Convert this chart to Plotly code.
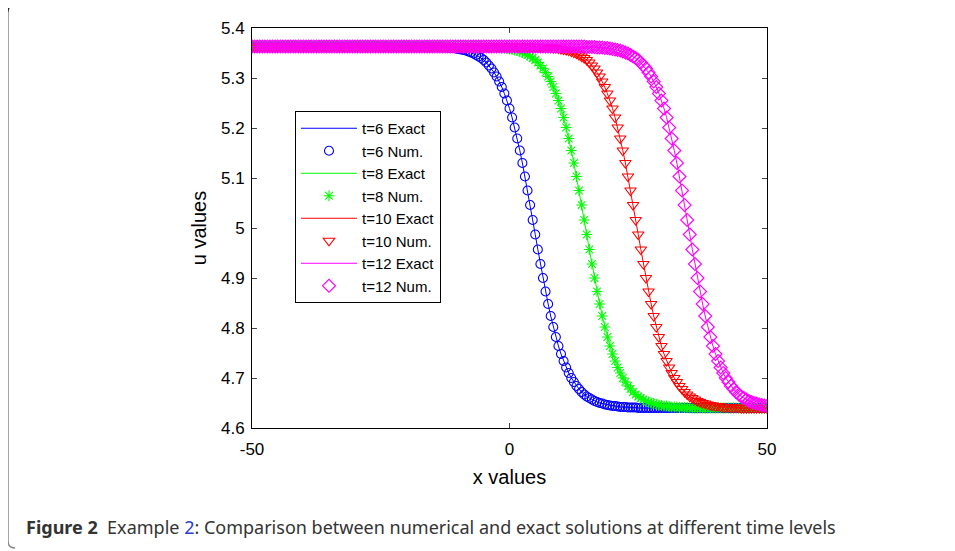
import numpy as np
import plotly.graph_objects as go

# x grid (step 0.5 from -50 to 50)
x_values = np.arange(-50, 50.0001, 0.5)

u_t6 = [
    5.363, 5.363, 5.363, 5.363, 5.363, 5.363, 5.363, 5.363, 5.363, 5.363,
    5.363, 5.363, 5.363, 5.363, 5.363, 5.363, 5.363, 5.363, 5.363, 5.363,
    5.363, 5.363, 5.363, 5.363, 5.363, 5.363, 5.363, 5.363, 5.363, 5.363,
    5.363, 5.363, 5.363, 5.363, 5.363, 5.363, 5.363, 5.363, 5.363, 5.363,
    5.363, 5.363, 5.363, 5.363, 5.363, 5.363, 5.363, 5.363, 5.363, 5.363,
    5.363, 5.363, 5.363, 5.363, 5.363, 5.363, 5.363, 5.363, 5.363, 5.363,
    5.363, 5.363, 5.363, 5.363, 5.363, 5.363, 5.363, 5.363, 5.363,
    5.363, 5.362, 5.362, 5.362, 5.362, 5.361, 5.361, 5.361, 5.360, 5.360,
    5.359, 5.358, 5.357, 5.356, 5.355, 5.353, 5.351, 5.349, 5.346, 5.343,
    5.340, 5.336, 5.331, 5.325, 5.319, 5.311, 5.303, 5.293, 5.282, 5.269,
    5.255, 5.239, 5.221, 5.201, 5.179, 5.155, 5.130, 5.103, 5.075, 5.046,
    5.016,
    4.987, 4.957, 4.928, 4.900, 4.873, 4.848, 4.824, 4.802, 4.782, 4.764,
    4.748, 4.734, 4.721, 4.710, 4.700, 4.692, 4.684, 4.678, 4.672, 4.667,
    4.663, 4.660, 4.657, 4.654, 4.652, 4.650, 4.649, 4.647, 4.646, 4.645,
    4.644, 4.644, 4.643, 4.642, 4.642, 4.642, 4.641, 4.641, 4.641, 4.641,
    4.640,
    4.640, 4.640, 4.640, 4.640, 4.640, 4.640, 4.640, 4.640, 4.640, 4.640,
    4.640, 4.640, 4.640, 4.640, 4.640, 4.640, 4.640, 4.640, 4.640, 4.640,
    4.640, 4.640, 4.640, 4.640, 4.640, 4.640, 4.640, 4.640, 4.640, 4.640,
    4.640, 4.640, 4.640, 4.640, 4.640, 4.640, 4.640, 4.640, 4.640, 4.640,
    4.640, 4.640, 4.640, 4.640, 4.640, 4.640, 4.640, 4.640, 4.640, 4.640,
]

u_t8 = [
    5.363, 5.363, 5.363, 5.363, 5.363, 5.363, 5.363, 5.363, 5.363, 5.363,
    5.363, 5.363, 5.363, 5.363, 5.363, 5.363, 5.363, 5.363, 5.363, 5.363,
    5.363, 5.363, 5.363, 5.363, 5.363, 5.363, 5.363, 5.363, 5.363, 5.363,
    5.363, 5.363, 5.363, 5.363, 5.363, 5.363, 5.363, 5.363, 5.363, 5.363,
    5.363, 5.363, 5.363, 5.363, 5.363, 5.363, 5.363, 5.363, 5.363, 5.363,
    5.363, 5.363, 5.363, 5.363, 5.363, 5.363, 5.363, 5.363, 5.363, 5.363,
    5.363, 5.363, 5.363, 5.363, 5.363, 5.363, 5.363, 5.363, 5.363, 5.363,
    5.363, 5.363, 5.363, 5.363, 5.363, 5.363, 5.363, 5.363, 5.363, 5.363,
    5.363, 5.363, 5.363, 5.363, 5.363, 5.363, 5.363, 5.363, 5.363,
    5.363, 5.362, 5.362, 5.362, 5.362, 5.361, 5.361, 5.361, 5.360, 5.360,
    5.359, 5.358, 5.357, 5.356, 5.355, 5.353, 5.351, 5.349, 5.346, 5.343,
    5.340, 5.336, 5.331, 5.325, 5.319, 5.311, 5.303, 5.293, 5.282, 5.269,
    5.255, 5.239, 5.221, 5.201, 5.179, 5.155, 5.130, 5.103, 5.075, 5.046,
    5.016,
    4.987, 4.957, 4.928, 4.900, 4.873, 4.848, 4.824, 4.802, 4.782, 4.764,
    4.748, 4.734, 4.721, 4.710, 4.700, 4.692, 4.684, 4.678, 4.672, 4.667,
    4.663, 4.660, 4.657, 4.654, 4.652, 4.650, 4.649, 4.647, 4.646, 4.645,
    4.644, 4.644, 4.643, 4.642, 4.642, 4.642, 4.641, 4.641, 4.641, 4.641,
    4.640,
    4.640, 4.640, 4.640, 4.640, 4.640, 4.640, 4.640, 4.640, 4.640, 4.640,
    4.640, 4.640, 4.640, 4.640, 4.640, 4.640, 4.640, 4.640, 4.640, 4.640,
    4.640, 4.640, 4.640, 4.640, 4.640, 4.640, 4.640, 4.640, 4.640, 4.640,
]

u_t10 = [
    5.363, 5.363, 5.363, 5.363, 5.363, 5.363, 5.363, 5.363, 5.363, 5.363,
    5.363, 5.363, 5.363, 5.363, 5.363, 5.363, 5.363, 5.363, 5.363, 5.363,
    5.363, 5.363, 5.363, 5.363, 5.363, 5.363, 5.363, 5.363, 5.363, 5.363,
    5.363, 5.363, 5.363, 5.363, 5.363, 5.363, 5.363, 5.363, 5.363, 5.363,
    5.363, 5.363, 5.363, 5.363, 5.363, 5.363, 5.363, 5.363, 5.363, 5.363,
    5.363, 5.363, 5.363, 5.363, 5.363, 5.363, 5.363, 5.363, 5.363, 5.363,
    5.363, 5.363, 5.363, 5.363, 5.363, 5.363, 5.363, 5.363, 5.363, 5.363,
    5.363, 5.363, 5.363, 5.363, 5.363, 5.363, 5.363, 5.363, 5.363, 5.363,
    5.363, 5.363, 5.363, 5.363, 5.363, 5.363, 5.363, 5.363, 5.363, 5.363,
    5.363, 5.363, 5.363, 5.363, 5.363, 5.363, 5.363, 5.363, 5.363, 5.363,
    5.363, 5.363, 5.363, 5.363, 5.363, 5.363, 5.363, 5.363, 5.363,
    5.363, 5.362, 5.362, 5.362, 5.362, 5.361, 5.361, 5.361, 5.360, 5.360,
    5.359, 5.358, 5.357, 5.356, 5.355, 5.353, 5.351, 5.349, 5.346, 5.343,
    5.340, 5.336, 5.331, 5.325, 5.319, 5.311, 5.303, 5.293, 5.282, 5.269,
    5.255, 5.239, 5.221, 5.201, 5.179, 5.155, 5.130, 5.103, 5.075, 5.046,
    5.016,
    4.987, 4.957, 4.928, 4.900, 4.873, 4.848, 4.824, 4.802, 4.782, 4.764,
    4.748, 4.734, 4.721, 4.710, 4.700, 4.692, 4.684, 4.678, 4.672, 4.667,
    4.663, 4.660, 4.657, 4.654, 4.652, 4.650, 4.649, 4.647, 4.646, 4.645,
    4.644, 4.644, 4.643, 4.642, 4.642, 4.642, 4.641, 4.641, 4.641, 4.641,
    4.640,
    4.640, 4.640, 4.640, 4.640, 4.640, 4.640, 4.640, 4.640, 4.640, 4.640,
]

u_t12 = [
    5.363, 5.363, 5.363, 5.363, 5.363, 5.363, 5.363, 5.363, 5.363, 5.363,
    5.363, 5.363, 5.363, 5.363, 5.363, 5.363, 5.363, 5.363, 5.363, 5.363,
    5.363, 5.363, 5.363, 5.363, 5.363, 5.363, 5.363, 5.363, 5.363, 5.363,
    5.363, 5.363, 5.363, 5.363, 5.363, 5.363, 5.363, 5.363, 5.363, 5.363,
    5.363, 5.363, 5.363, 5.363, 5.363, 5.363, 5.363, 5.363, 5.363, 5.363,
    5.363, 5.363, 5.363, 5.363, 5.363, 5.363, 5.363, 5.363, 5.363, 5.363,
    5.363, 5.363, 5.363, 5.363, 5.363, 5.363, 5.363, 5.363, 5.363, 5.363,
    5.363, 5.363, 5.363, 5.363, 5.363, 5.363, 5.363, 5.363, 5.363, 5.363,
    5.363, 5.363, 5.363, 5.363, 5.363, 5.363, 5.363, 5.363, 5.363, 5.363,
    5.363, 5.363, 5.363, 5.363, 5.363, 5.363, 5.363, 5.363, 5.363, 5.363,
    5.363, 5.363, 5.363, 5.363, 5.363, 5.363, 5.363, 5.363, 5.363, 5.363,
    5.363, 5.363, 5.363, 5.363, 5.363, 5.363, 5.363, 5.363, 5.363, 5.363,
    5.363, 5.363, 5.363, 5.363, 5.363, 5.363, 5.363, 5.363, 5.363,
    5.363, 5.362, 5.362, 5.362, 5.362, 5.361, 5.361, 5.361, 5.360, 5.360,
    5.359, 5.358, 5.357, 5.356, 5.355, 5.353, 5.351, 5.349, 5.346, 5.343,
    5.340, 5.336, 5.331, 5.325, 5.319, 5.311, 5.303, 5.293, 5.282, 5.269,
    5.255, 5.239, 5.221, 5.201, 5.179, 5.155, 5.130, 5.103, 5.075, 5.046,
    5.016,
    4.987, 4.957, 4.928, 4.900, 4.873, 4.848, 4.824, 4.802, 4.782, 4.764,
    4.748, 4.734, 4.721, 4.710, 4.700, 4.692, 4.684, 4.678, 4.672, 4.667,
    4.663, 4.660, 4.657, 4.654, 4.652, 4.650, 4.649, 4.647, 4.646, 4.645,
    4.644,
]

series = [
    ("t=6", u_t6, "#0000FF", "circle-open", 9),
    ("t=8", u_t8, "#00FF00", "asterisk-open", 9),
    ("t=10", u_t10, "#FF0000", "triangle-down-open", 10),
    ("t=12", u_t12, "#FF00FF", "diamond-open", 10),
]

for name, u, *_ in series:
    if len(u) != len(x_values):
        raise ValueError(f"{name}: {len(u)} values for {len(x_values)} x points")

x_ticks = [-50, 0, 50]
x_tick_labels = ["-50", "0", "50"]
y_ticks = [4.6, 4.7, 4.8, 4.9, 5.0, 5.1, 5.2, 5.3, 5.4]
y_tick_labels = ["4.6", "4.7", "4.8", "4.9", "5", "5.1", "5.2", "5.3", "5.4"]

fig = go.Figure()
for name, u, color, symbol, msize in series:
    fig.add_trace(go.Scatter(
        x=x_values, y=u, mode="lines", name=f"{name} Exact",
        line=dict(color=color, width=1),
    ))
    fig.add_trace(go.Scatter(
        x=x_values, y=u, mode="markers", name=f"{name} Num.",
        marker=dict(symbol=symbol, size=msize, color=color,
                    line=dict(color=color, width=1.1)),
    ))

# page has an 8px body margin: work in screen pixels, offset by 8
OFF = 8
W, H = 955 - OFF, 551 - OFF
L, R, T, B = 252 - OFF, 188, 28 - OFF, 551 - 428
pw, ph = W - L - R, H - T - B


def px(xs):
    return (xs - OFF - L) / pw


def py(ys):
    return (H - B - (ys - OFF)) / ph


ff = "Liberation Sans, Arial, sans-serif"
axis_font = dict(family=ff, size=17, color="#000")

fig.update_xaxes(
    range=[-50, 50], tickvals=x_ticks, ticktext=x_tick_labels,
    ticks="inside", ticklen=5,
    showline=True, linecolor="#000", linewidth=1, mirror="ticks",
    showgrid=False, zeroline=False, tickfont=axis_font,
    ticklabelstandoff=6,
    title=dict(text="x values", font=dict(family=ff, size=20, color="#000"), standoff=11),
)
fig.update_yaxes(
    range=[4.6, 5.4], tickvals=y_ticks, ticktext=y_tick_labels,
    ticks="inside", ticklen=5,
    showline=True, linecolor="#000", linewidth=1, mirror="ticks",
    showgrid=False, zeroline=False, tickfont=axis_font,
    ticklabelstandoff=3,
    title=dict(text="u values", font=dict(family=ff, size=20, color="#000"), standoff=8),
)

fig.update_layout(
    width=W, height=H,
    margin=dict(l=L, r=R, t=T, b=B, autoexpand=False),
    paper_bgcolor="white", plot_bgcolor="white",
    showlegend=True,
    legend=dict(
        x=px(295), y=py(111), xanchor="left", yanchor="top",
        bgcolor="white", bordercolor="#000", borderwidth=1,
        font=dict(family=ff, size=15, color="#000"),
        tracegroupgap=0, itemwidth=56,
    ),
    shapes=[
        dict(type="path", xref="paper", yref="paper",
             path=f"M {px(960)},{py(5)} L {px(15)},{py(5)} Q {px(8)},{py(5)} {px(8)},{py(12)}",
             line=dict(color="#222", width=1.3)),
        dict(type="path", xref="paper", yref="paper",
             path=f"M {px(8)},{py(12)} L {px(8)},{py(541)} Q {px(8)},{py(548)} {px(15)},{py(548)}",
             line=dict(color="#888", width=1.5)),
    ],
    annotations=[
        dict(
            xref="paper", yref="paper", x=px(24), y=py(527),
            xanchor="left", yanchor="middle", showarrow=False,
            text=("<b>Figure 2</b>\u00a0\u00a0Example <span style='color:#2b3bd9'>2</span>: "
                  "Comparison between numerical and exact solutions at different time levels"),
            font=dict(family="Noto Sans, sans-serif", size=18, color="#333"),
        )
    ],
)

fig.write_html("out.html")
